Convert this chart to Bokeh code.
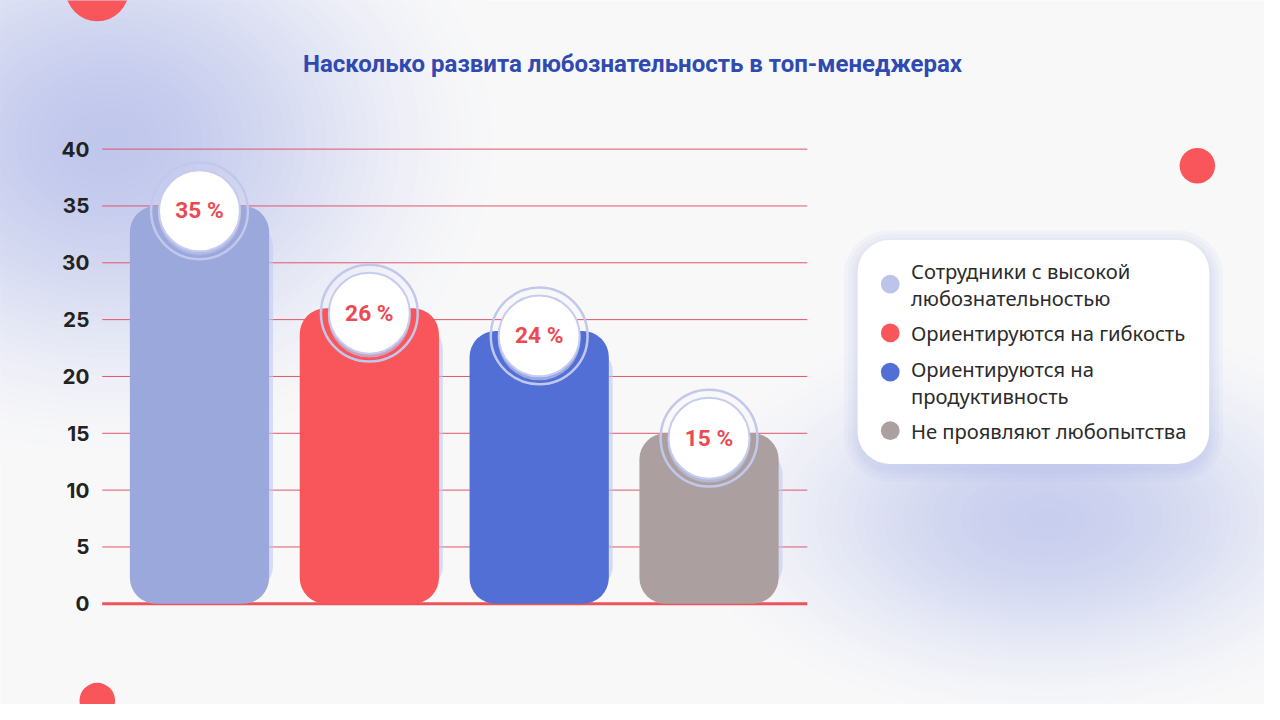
from bokeh.plotting import figure
from bokeh.models import Range1d
from bokeh.core.properties import value
from bokeh.embed import file_html
from bokeh.resources import INLINE

# ---------------- data ----------------
title_text = "Насколько развита любознательность в топ-менеджерах"
categories = [
    "Сотрудники с высокой\nлюбознательностью",
    "Ориентируются на гибкость",
    "Ориентируются на\nпродуктивность",
    "Не проявляют любопытства",
]
values = [35, 26, 24, 15]
value_labels = ["35 %", "26 %", "24 %", "15 %"]
y_ticks = [0, 5, 10, 15, 20, 25, 30, 35, 40]
y_tick_labels = ["0", "5", "10", "15", "20", "25", "30", "35", "40"]
bar_colors = ["#9ba8dc", "#f9565c", "#526fd6", "#aba09f"]
legend_colors = ["#bcc4ea", "#f9565c", "#526fd6", "#aba09f"]

# ---------------- layout ----------------
W, H = 1264, 704
RW, RH = 1280, 720                              # design coordinate box
Y_ZERO, Y_TOP, Y_MAX = 617, 152, 40             # design y of 0 and of 40
SC = (Y_ZERO - Y_TOP) / Y_MAX                   # design px per unit
X_FIRST, DX = 201.5, 172.0                      # design x of first bar centre, step
BAR_W = 141 / DX
K = W / RW                                      # screen px per design px
BG = (248, 248, 249)

x_range = Range1d((0 - X_FIRST) / DX, (RW - X_FIRST) / DX)
y_range = Range1d(-(RH - Y_ZERO) / SC, Y_MAX + Y_TOP / SC)

p = figure(width=W, height=H, x_range=x_range, y_range=y_range,
           output_backend="svg", toolbar_location=None,
           x_axis_location=None, y_axis_location=None,
           min_border=0, outline_line_color=None,
           background_fill_color="#f8f8f9", border_fill_color="#f8f8f9")
p.xgrid.visible = False
p.ygrid.visible = False
p.extra_x_ranges = {"px": Range1d(0, RW)}
p.extra_y_ranges = {"py": Range1d(RH, 0)}


def mix(c, w):
    return "#%02x%02x%02x" % tuple(int(round(b + (a - b) * w)) for a, b in zip(c, BG))


def blob(cx, cy, rx, ry, col, n=40):
    for i in range(n):
        f = 1 - i / n
        w = 1 - (3 * f * f - 2 * f ** 3)
        p.ellipse(x=[cx], y=[cy], width=[2 * rx * f], height=[2 * ry * f],
                  fill_color=mix(col, w), line_color=None,
                  x_range_name="px", y_range_name="py")


# ---------------- background blobs ----------------
blob(110, 145, 420, 340, (192, 199, 236))
blob(1060, 530, 390, 220, (200, 206, 238))

# red decorative dots
p.circle(x=[98, 1212, 98], y=[-11, 169, 716], radius=[32, 18, 18],
         fill_color="#f9565c", line_color=None,
         x_range_name="px", y_range_name="py")

# ---------------- title ----------------
p.text(x=[640], y=[65], text=[title_text], text_font=value("Roboto"),
       text_font_style="bold", text_font_size=f"{24.3 * K:.1f}px", text_color="#2f4ab0",
       text_align="center", text_baseline="middle",
       x_range_name="px", y_range_name="py")

# ---------------- grid + ticks ----------------
grid_ticks = [t for t in y_ticks if t > 0]
p.segment(x0=[103] * len(grid_ticks), x1=[817] * len(grid_ticks),
          y0=grid_ticks, y1=grid_ticks, line_color="#e0566a", line_width=1,
          x_range_name="px")
p.segment(x0=[103], x1=[817], y0=[0], y1=[0], line_color="#f0525a",
          line_width=3, x_range_name="px")
p.text(x=[90] * len(y_ticks), y=y_ticks, text=y_tick_labels,
       text_font=value("Inter"), text_font_style="bold", text_font_size=f"{21 * K:.1f}px",
       text_color="#222222", text_align="right", text_baseline="middle",
       x_range_name="px")

# ---------------- bars ----------------
xs = list(range(len(values)))
shadow_dx = 4 / DX
p.vbar(x=[x + shadow_dx for x in xs], top=[v - 1.5 for v in values], bottom=1.2,
       width=BAR_W, fill_color="#c3caee", fill_alpha=0.6, line_color=None,
       border_radius=24)
p.vbar(x=xs, top=values, bottom=0, width=BAR_W, fill_color=bar_colors,
       line_color=None, border_radius=26)

# value badges
cy = [v - 5 / SC for v in values]
p.scatter(x=xs, y=cy, marker="circle", size=98 * K, fill_color=None,
          line_color="#c2c8ec", line_width=2.5)
p.scatter(x=xs, y=[c - 3 / SC for c in cy], marker="circle", size=84 * K,
          fill_color="#b9c1ea", fill_alpha=0.7, line_color=None)
p.scatter(x=xs, y=cy, marker="circle", size=82 * K, fill_color="white",
          line_color="#c6cced", line_width=2)
p.text(x=xs, y=cy, text=value_labels, text_font=value("Roboto"),
       text_font_style="bold", text_font_size=f"{23 * K:.1f}px", text_color="#ec4a52",
       text_align="center", text_baseline="middle")

# ---------------- legend ----------------
LX0, LX1, LY0, LY1 = 868, 1224, 245, 474
for g in [14, 10, 6, 3]:
    p.quad(left=[LX0 - g], right=[LX1 + g], top=[LY0 - g + 4], bottom=[LY1 + g + 4],
           fill_color="#a9b3e6", fill_alpha=0.08, line_color=None,
           border_radius=32 + g, x_range_name="px", y_range_name="py")
p.quad(left=[LX0], right=[LX1], top=[LY0], bottom=[LY1], fill_color="white",
       line_color=None, border_radius=32, x_range_name="px", y_range_name="py")

row_text_y = [290.5, 340, 390.5, 440]
row_dot_y = [290, 340, 380, 440]
p.scatter(x=[901] * 4, y=row_dot_y, marker="circle", size=19 * K,
          fill_color=legend_colors, line_color=None,
          x_range_name="px", y_range_name="py")
p.text(x=[922] * 4, y=row_text_y, text=categories, text_font=value("Noto Sans"),
       text_font_size=f"{20.5 * K:.1f}px", text_color="#2b2b2b", text_align="left",
       text_baseline="middle", text_line_height=0.98,
       x_range_name="px", y_range_name="py")

open("out.html", "w").write(file_html(p, INLINE))
